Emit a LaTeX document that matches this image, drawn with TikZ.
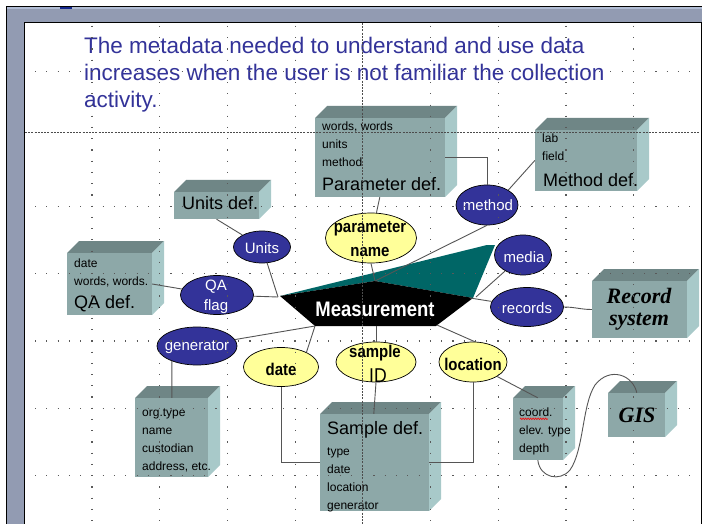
\documentclass[tikz,border=0pt]{standalone}
\usepackage{fontspec}
\setmainfont{Liberation Sans}
\newfontfamily\scriptf{Liberation Serif}
\usetikzlibrary{shapes.geometric,calc,decorations.pathmorphing}

\definecolor{frameg}{RGB}{146,155,178}
\definecolor{framel}{RGB}{176,188,212}
\definecolor{frameb}{RGB}{20,40,140}
\definecolor{ttl}{RGB}{51,51,153}
\definecolor{pblue}{RGB}{51,51,153}
\definecolor{pyel}{RGB}{255,255,153}
\definecolor{bfront}{RGB}{141,168,168}
\definecolor{btop}{RGB}{111,134,134}
\definecolor{bside}{RGB}{168,201,201}
\definecolor{tealc}{RGB}{0,102,102}
\definecolor{conn}{RGB}{85,85,85}

\newcommand\cuboid[5]{%
  \fill[btop] (#2,#3) -- (#2+12,#3-12) -- (#4+12,#3-12) -- (#4,#3) -- cycle;
  \fill[bside] (#4,#3) -- (#4+12,#3-12) -- (#4+12,#5-12) -- (#4,#5) -- cycle;
  \node[boxf, minimum width={(#4-#2)*1pt}, minimum height={(#5-#3)*1pt}] (#1) at ({(#2+#4)/2},{(#3+#5)/2}) {};
}

\begin{document}
\begin{tikzpicture}[x=1pt,y=-1pt,
  boxf/.style={rectangle, fill=bfront, draw=none, inner sep=0},
  ell/.style={ellipse, draw=black, line width=0.7pt, inner sep=0},
  blueell/.style={ell, fill=pblue},
  yelell/.style={ell, fill=pyel},
  bt/.style={anchor=base west, inner sep=0, font=\fontsize{12}{14}\selectfont},
  bh/.style={anchor=base west, inner sep=0, font=\fontsize{18}{20}\selectfont},
  wt/.style={anchor=base, inner sep=0, text=white, font=\fontsize{15}{17}\selectfont},
  yt/.style={anchor=base, inner sep=0, font=\fontsize{17}{19}\selectfont\bfseries},
  sc/.style={anchor=base, inner sep=0, font=\fontsize{22}{22}\selectfont\scriptf\bfseries\itshape},
  ttxt/.style={anchor=base west, inner sep=0, text=ttl, font=\fontsize{22.5}{27}\selectfont},
  con/.style={draw=conn, line width=0.9pt},
  gdot/.style={draw=black!65, line width=1.2pt, dash pattern=on 1.2pt off 10.08pt},
  gdotv/.style={draw=black!65, line width=1.2pt, dash pattern=on 1.2pt off 10.03pt},
  gdash/.style={draw=black!70, line width=0.8pt, dash pattern=on 2pt off 1.2pt}
]
\useasboundingbox (0,0) rectangle (702,524);
\fill[white] (0,0) rectangle (702,524);

% window frame
\fill[frameg] (6.5,6.5) rectangle (702,22.5);
\fill[frameg] (6.5,6.5) rectangle (24.5,524);
\fill[framel] (7.3,7.3) rectangle (702,9.4);
\fill[frameb] (60,7.3) rectangle (72,9.4);
\draw[black, line width=1.5pt] (6.5,524) -- (6.5,6.5) -- (702,6.5);
\draw[black, line width=0.8pt] (24.5,524) -- (24.5,22.5) -- (702,22.5);
\draw[black, line width=0.8pt] (701.3,22.5) -- (701.3,524);

% title
\node[ttxt] (t1) at (84,54) {The metadata needed to understand and use data};
\node[ttxt] (t2) at (84,81) {increases when the user is not familiar the collection};
\node[ttxt] (t3) at (84,108) {activity.};

% Measurement shape
\fill[tealc] (280,296) -- (487,245) -- (495,245) -- (473,298) -- (375,281) -- cycle;
\fill[black] (280,296) -- (375,281) -- (473,298) -- (436,326) -- (315,326) -- cycle;
\coordinate (mL) at (278,297);
\coordinate (mT) at (375,281);
\coordinate (mR) at (470,298);
\coordinate (mR2) at (476,297);
\coordinate (mBR) at (437,325);
\coordinate (mBL) at (315,326);
\coordinate (mB) at (376,326);
\node[anchor=base, inner sep=0, text=white, font=\fontsize{21}{23}\selectfont\bfseries] (meas) at (375,316) {\scalebox{0.88}[1]{Measurement}};

% boxes
\cuboid{pdef}{315}{118}{445}{197}
\cuboid{methoddef}{535}{130}{637}{191}
\cuboid{unitsdef}{174}{192}{259}{219}
\cuboid{qadef}{67}{253}{152}{315}
\cuboid{recsys}{592}{281}{687}{338}
\cuboid{orgbox}{135}{398}{208}{477}
\cuboid{sampledef}{320}{414}{429}{511}
\cuboid{coordbox}{513}{398}{563}{460}
\cuboid{gis}{608}{393}{665}{437}

% ellipses
\node[blueell, minimum width=57pt, minimum height=32pt] (units) at (262,247) {};
\node[blueell, minimum width=73pt, minimum height=39pt] (qaflag) at (217,295) {};
\node[blueell, minimum width=80pt, minimum height=38pt] (generator) at (197,346) {};
\node[blueell, minimum width=62pt, minimum height=40pt] (method) at (487,205) {};
\node[blueell, minimum width=57pt, minimum height=40pt] (media) at (523,255) {};
\node[blueell, minimum width=73pt, minimum height=39pt] (records) at (527,307) {};
\node[yelell, minimum width=91pt, minimum height=50pt] (pname) at (371,238) {};
\node[yelell, minimum width=75pt, minimum height=39pt] (date) at (281,367) {};
\node[yelell, minimum width=80pt, minimum height=40pt] (sampleid) at (376,362) {};
\node[yelell, minimum width=68pt, minimum height=40pt] (location) at (473,362) {};

% connectors
\draw[con] (unitsdef.south) -- (units);
\draw[con] (units) -- (mL);
\draw[con] (qaflag) -- (mL);
\draw[con] (qadef.east) -- (qaflag);
\draw[con] (generator) -- (mBL);
\draw[con] (date.30) -- (mBL);
\draw[con] (generator.-149) -- ($(orgbox.north west)+(37,0)$);
\draw[con] (date.south) |- (sampledef.west);
\draw[con] (sampleid.south) -- ($(sampledef.north west)+(54,0)$);
\draw[con] (mB) -- (sampleid.north);
\draw[con] (mBR) -- (location.85);
\draw[con] (location.south) |- (sampledef.east);
\draw[con] (location.-31) -- ($(coordbox.north west)+(25,0)$);
\draw[con] ($(coordbox.south west)+(25,0)$) .. controls (540,478) and (560,482) .. (570,470)
   .. controls (584,450) and (582,405) .. (595,385)
   .. controls (610,366) and (633,375) .. ($(gis.north west)+(29,0)$);
\draw[con] (records.east) to[out=0,in=180] (recsys.west);
\draw[con] (mR) -- (records);
\draw[con] (media) -- (mR2);
\draw[con] (method.35) -- (methoddef.west);
\draw[con] (method.south) -- (mT);
\draw[con] ($(pdef.south west)+(65,0)$) -- (pname);
\draw[con] (pname.south) -- (mT);
\draw[con] ($(pdef.north east)+(0,40)$) -| (method.north);

% ellipse texts
\node[wt] (unitsT) at (262,253) {Units};
\node[wt] (qaT1) at (216,290) {QA};
\node[wt] (qaT2) at (216,310) {flag};
\node[wt] (genT) at (197,350) {generator};
\node[wt] (methT) at (488,211) {method};
\node[wt] (mediaT) at (524,262) {media};
\node[wt] (recT) at (527,313) {records};
\node[yt] (pnT1) at (370,233) {\scalebox{0.88}[1]{parameter}};
\node[yt] (pnT2) at (370,256.5) {\scalebox{0.88}[1]{name}};
\node[yt] (dateT) at (281,375) {\scalebox{0.88}[1]{date}};
\node[yt] (sidT1) at (375,357) {\scalebox{0.88}[1]{sample}};
\node[anchor=base, inner sep=0, font=\fontsize{20}{22}\selectfont] (sidT2) at (378,382) {\scalebox{0.88}[1]{ID}};
\node[yt] (locT) at (473,370) {\scalebox{0.88}[1]{location}};

% box texts
\node[bt] (pd1) at (322,131) {words, words};
\node[bt] (pd2) at (322,149) {units};
\node[bt] (pd3) at (322,167) {method};
\node[bh] (pd4) at (322,190) {Parameter def.};
\node[bt] (md1) at (542,143) {lab};
\node[bt] (md2) at (542,161) {field};
\node[bh] (md3) at (543,187) {Method def.};
\node[bh] (ud1) at (182,210) {Units def.};
\node[bt] (qd1) at (74,267) {date};
\node[bt] (qd2) at (74,285) {words, words.};
\node[bh] (qd3) at (74,308) {QA def.};
\node[bt] (og1) at (142,416) {org.type};
\node[bt] (og2) at (142,434) {name};
\node[bt] (og3) at (142,452) {custodian};
\node[bt] (og4) at (142,470) {address, etc.};
\node[bh] (sd1) at (327,434) {Sample def.};
\node[bt] (sd2) at (327,455) {type};
\node[bt] (sd3) at (327,473) {date};
\node[bt] (sd4) at (327,491) {location};
\node[bt] (sd5) at (327,509) {generator};
\node[bt] (cd1) at (519,416) {coord.};
\node[bt] (cd2) at (519,434) {elev. type};
\node[bt] (cd3) at (519,452) {depth};
\draw[red, line width=0.6pt, decorate, decoration={zigzag, amplitude=0.8pt, segment length=2.5pt}] (520,418.8) -- (548,418.8);
\node[sc] (rs1) at (639,303) {Record};
\node[sc] (rs2) at (639,325) {system};
\node[sc] (gisT) at (637,422) {GIS};

% guides and grid on top
\foreach \yy in {71.4,206.2,273.6,341,408.4,475.8} \draw[gdot] (35,\yy) -- (700,\yy);
\foreach \xx in {92,159.7,227.4,295.1,430.5,498.2,565.9,633.6} \draw[gdotv] (\xx,25.9) -- (\xx,524);
\draw[gdash] (362.8,23) -- (362.8,524);
\draw[gdash] (25,132.5) -- (700,132.5);
\end{tikzpicture}
\end{document}
